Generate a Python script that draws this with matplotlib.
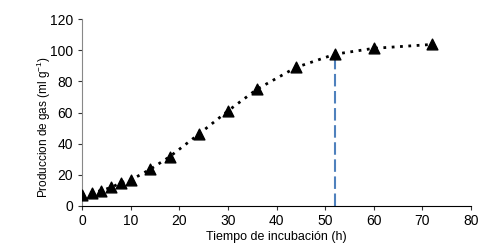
import numpy as np
import matplotlib
import matplotlib.pyplot as plt

horas = [0, 2, 4, 6, 8, 10, 14, 18, 24, 30, 36, 44, 52, 60, 72]
gas = [7, 8.4, 9.8, 11.8, 14.8, 16.5, 23.4, 31.5, 46, 61, 75, 89, 97.5, 101.3, 103.8]
x_corte = 52
y_corte = 97.5

plt.rcParams['font.family'] = ['Liberation Sans', 'DejaVu Sans']
plt.rcParams['font.size'] = 10

fig = plt.figure(figsize=(5, 2.47), dpi=100)
ax = fig.add_axes([0.164, 0.167, 0.778, 0.755])
ax.plot(horas, gas, color='black', linestyle=(0, (1, 2)), linewidth=2)
ax.scatter(horas, gas, marker='^', s=60, color='black', zorder=3)
ax.plot([x_corte, x_corte], [0, y_corte], color='#4f81bd', linestyle=(0, (6, 2.2)), linewidth=1.5)

ax.set_xlim(0, 80)
ax.set_ylim(0, 120)
ax.set_xticks(np.arange(0, 81, 10))
ax.set_yticks(np.arange(0, 121, 20))
ax.spines['top'].set_visible(False)
ax.spines['right'].set_visible(False)
ax.spines['left'].set_color('#888888')
ax.tick_params(length=3, width=0.8, colors='#333333', labelcolor='black')
ax.tick_params(axis='x', pad=3)
ax.tick_params(axis='y', pad=3.5)
ax.set_xlabel('Tiempo de incubación (h)', fontsize=9, va='top')
ax.set_ylabel('Produccion de gas (ml g$^{\\mathregular{-1}}$)', fontsize=8.5, va='center')
ax.xaxis.set_label_coords(0.5, -0.135)
ax.yaxis.set_label_coords(-0.097, 0.42)

fig.savefig('out.png', dpi=100)
